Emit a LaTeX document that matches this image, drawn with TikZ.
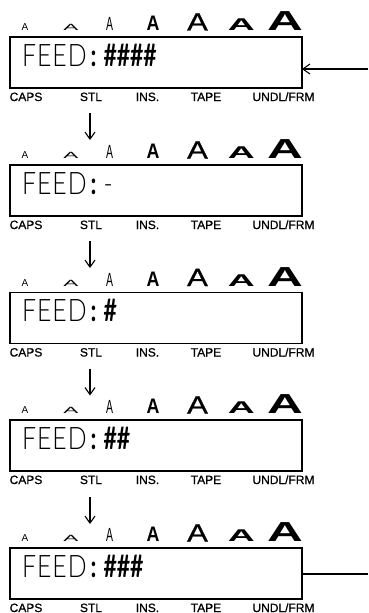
\documentclass[tikz,border=0pt]{standalone}
\usepackage{fontspec}
\usepackage{graphicx}
\setmainfont{Liberation Sans}
\newfontfamily\lcd[FakeStretch=0.8, LetterSpace=3]{Lato Light}
\newfontfamily\lcdb[FakeStretch=0.74]{Lato Bold}
\newfontfamily\lbl[FakeBold=0.8]{Liberation Sans}
\usetikzlibrary{arrows.meta}
\tikzset{
  lcdbox/.style={draw, line width=1.8pt, minimum width=292pt, minimum height=51pt, inner sep=0pt, outer sep=0pt},
  feedtext/.style={anchor=base west, inner sep=0pt, font=\fontsize{31}{31}\selectfont},
  sizeA/.style={anchor=base, inner sep=0pt},
  keylabel/.style={anchor=base, inner sep=0pt, font=\lbl\fontsize{12}{12}\selectfont},
  flow/.style={line width=1.1pt},
  barb/.style={-{Straight Barb[length=7pt,width=10pt,line width=1.1pt]}},
}
\newcommand{\lcdblock}[3]{%
  \begin{scope}[shift={(0,#2)}]
    \node[lcdbox] (box#1) at (156,25.5) {};
    \node[feedtext] (feed#1) at (22,29) {{\lcd FEED}\hspace{4pt}{\lcdb :}\hspace{7pt}#3};
    \node[sizeA, font=\fontsize{10}{10}\selectfont] (aa#1) at (25,-6.5) {A};
    \node[sizeA, font=\fontsize{9}{9}\selectfont] (ab#1) at (71,-6.5) {\scalebox{2.5}[1]{A}};
    \node[sizeA, font=\fontsize{19}{19}\selectfont] (ac#1) at (109.5,-6.5) {\scalebox{0.55}[1]{A}};
    \node[sizeA, font=\bfseries\fontsize{21}{21}\selectfont] (ad#1) at (153,-6.5) {\scalebox{0.85}[1]{A}};
    \node[sizeA, font=\lbl\fontsize{25}{25}\selectfont] (ae#1) at (197.5,-6.5) {\scalebox{1.25}[1]{A}};
    \node[sizeA, font=\bfseries\fontsize{17}{17}\selectfont] (af#1) at (241.5,-6.5) {\scalebox{2.2}[1]{A}};
    \node[sizeA, font=\bfseries\fontsize{27.5}{27.5}\selectfont] (ag#1) at (285,-6.5) {\scalebox{1.8}[1]{A}};
    \node[keylabel] (caps#1) at (26,64) {CAPS};
    \node[keylabel] (stl#1) at (91,64) {STL};
    \node[keylabel] (ins#1) at (147.5,64) {INS.};
    \node[keylabel] (tape#1) at (206,64) {TAPE};
    \node[keylabel] (undl#1) at (283.5,64) {UNDL/FRM};
  \end{scope}}
\begin{document}
\begin{tikzpicture}[x=1pt,y=-1pt]
\useasboundingbox (0,0) rectangle (368,613);
\lcdblock{1}{37}{{\lcdb \#\#\#\#}}
\lcdblock{2}{165}{{\lcd -}}
\lcdblock{3}{292.5}{{\lcdb \#}}
\lcdblock{4}{420}{{\lcdb \#\#}}
\lcdblock{5}{548}{{\lcdb \#\#\#}}
% down arrows
\coordinate (s1) at (90,113); \coordinate (e1) at (90,140);
\coordinate (s2) at (90,241); \coordinate (e2) at (90,268);
\coordinate (s3) at (90,368.5); \coordinate (e3) at (90,395.5);
\coordinate (s4) at (90,497); \coordinate (e4) at (90,524);
\foreach \k in {1,2,3,4} {\draw[flow,barb] (s\k) -- (e\k);}
% in / out
\coordinate (feedin) at (368,69);
\draw[flow,barb] (feedin) -- (feedin -| box1.east);
\coordinate (feedout) at (368,574);
\draw[flow] (box5.east |- feedout) -- (feedout);
\end{tikzpicture}
\end{document}
